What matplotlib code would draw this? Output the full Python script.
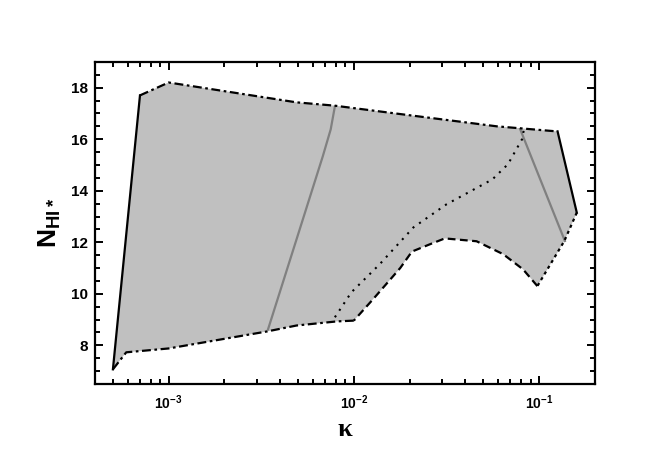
import matplotlib
matplotlib.use("Agg")
import matplotlib.pyplot as plt
from matplotlib.ticker import LogLocator, MultipleLocator, FixedLocator, FuncFormatter
import numpy as np

plt.rcParams['font.family'] = ['Liberation Sans', 'DejaVu Sans']
plt.rcParams['mathtext.fontset'] = 'custom'
plt.rcParams['mathtext.rm'] = 'Liberation Sans:bold'
plt.rcParams['mathtext.bf'] = 'Liberation Sans:bold'
plt.rcParams['mathtext.it'] = 'Liberation Sans:bold'

# boundary segments (kappa, N_HI*)
left_solid_x = [5.0e-4, 7.0e-4]
left_solid_y = [7.07, 17.7]
top_x = [7.0e-4, 1.0e-3, 4.9e-3, 7.9e-3, 1.85e-2, 5.9e-2, 1.26e-1]
top_y = [17.7, 18.2, 17.43, 17.3, 16.96, 16.5, 16.3]
right_solid_x = [0.126, 0.16]
right_solid_y = [16.3, 13.15]
right_dot_x = [0.16, 0.137, 0.098]
right_dot_y = [13.15, 12.05, 10.3]
bottom_dash_x = [0.098, 0.082, 0.064, 0.046, 0.031, 0.0257, 0.0206, 0.0178, 0.0127, 0.01]
bottom_dash_y = [10.3, 10.95, 11.54, 12.04, 12.15, 11.92, 11.64, 11.0, 9.79, 8.96]
bottom_dashdot_x = [0.01, 8.1e-3, 4.9e-3, 3.4e-3, 1.0e-3, 5.9e-4, 5.0e-4]
bottom_dashdot_y = [8.96, 8.93, 8.77, 8.54, 7.88, 7.73, 7.07]

# interior curves
gray1_x = [3.44e-3, 5.1e-3, 6.8e-3, 7.5e-3, 7.9e-3]
gray1_y = [8.62, 12.5, 15.34, 16.38, 17.27]
gray2_x = [0.079, 0.138]
gray2_y = [16.4, 12.05]
dotted_x = [7.9e-3, 9.7e-3, 0.0138, 0.021, 0.0316, 0.056, 0.068, 0.081, 0.083]
dotted_y = [9.09, 10.06, 11.15, 12.58, 13.47, 14.44, 15.03, 16.0, 16.4]

xticks = [1e-3, 1e-2, 1e-1]
xticklabels = [r'$\mathbf{10^{-3}}$', r'$\mathbf{10^{-2}}$', r'$\mathbf{10^{-1}}$']
yticks = [8, 10, 12, 14, 16, 18]

fig = plt.figure(figsize=(6.55, 4.55), dpi=100)
ax = fig.add_axes([0.145, 0.156, 0.763, 0.708])
ax.set_xscale('log')
ax.set_xlim(4e-4, 0.2)
ax.set_ylim(6.5, 19)

poly_x = (left_solid_x + top_x[1:] + right_solid_x[1:] + right_dot_x[1:]
          + bottom_dash_x[1:] + bottom_dashdot_x[1:])
poly_y = (left_solid_y + top_y[1:] + right_solid_y[1:] + right_dot_y[1:]
          + bottom_dash_y[1:] + bottom_dashdot_y[1:])
ax.fill(poly_x, poly_y, color='#c0c0c0', lw=0, zorder=1)

lw = 1.6
ax.plot(gray1_x, gray1_y, color='#808080', lw=1.6, zorder=2)
ax.plot(gray2_x, gray2_y, color='#808080', lw=1.6, zorder=2)
ax.plot(dotted_x, dotted_y, color='black', lw=1.5, dashes=(1.0, 2.8), zorder=3)

ax.plot(left_solid_x, left_solid_y, color='black', lw=lw, zorder=4)
ax.plot(right_solid_x, right_solid_y, color='black', lw=lw, zorder=4)
ax.plot(top_x, top_y, color='black', lw=lw, dashes=(4, 1.6, 1.2, 1.6), zorder=4)
ax.plot(bottom_dashdot_x, bottom_dashdot_y, color='black', lw=lw, dashes=(4, 1.6, 1.2, 1.6), zorder=4)
ax.plot(bottom_dash_x, bottom_dash_y, color='black', lw=lw, dashes=(3.5, 2.0), zorder=4)
ax.plot(right_dot_x, right_dot_y, color='black', lw=lw, dashes=(1.4, 1.6), zorder=4)

for s in ax.spines.values():
    s.set_linewidth(1.6)

ax.xaxis.set_major_locator(FixedLocator(xticks))
ax.set_xticklabels(xticklabels)
ax.xaxis.set_minor_locator(LogLocator(base=10, subs=np.arange(2, 10)))
ax.xaxis.set_minor_formatter(FuncFormatter(lambda v, p: ''))
ax.yaxis.set_major_locator(FixedLocator(yticks))
ax.yaxis.set_minor_locator(MultipleLocator(0.5))
ax.tick_params(which='both', direction='in', top=True, right=True, width=1.4)
ax.tick_params(which='major', length=6)
ax.tick_params(which='minor', length=3.5)
ax.tick_params(axis='y', which='major', labelsize=11, pad=5)
ax.tick_params(axis='x', which='major', labelsize=10, pad=7)
for lab in ax.get_yticklabels():
    lab.set_fontweight('bold')

ax.set_xlabel('κ', fontsize=19, fontweight='bold', family=['Liberation Serif', 'DejaVu Serif'], labelpad=4)
ax.set_ylabel(r'$\mathbf{N}_{\mathbf{HI*}}$', fontsize=19, labelpad=6)

fig.savefig('out.png', dpi=100)
